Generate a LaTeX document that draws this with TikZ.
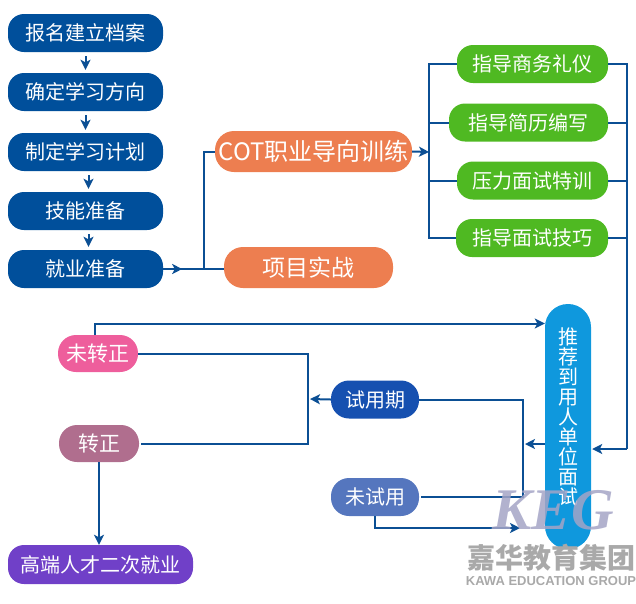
\documentclass[tikz,border=0pt]{standalone}
\usepackage{fontspec}
\setmainfont{Noto Sans CJK SC}
\newfontfamily\latinbold{Liberation Sans}
\newfontfamily\keg{Liberation Serif}
\usetikzlibrary{arrows.meta,calc}
\definecolor{navy}{HTML}{004F9B}
\definecolor{linec}{HTML}{0B4F94}
\definecolor{orangec}{HTML}{ED7E50}
\definecolor{greenc}{HTML}{4FB922}
\definecolor{skyc}{HTML}{0F98DD}
\definecolor{trialc}{HTML}{1650B0}
\definecolor{notrialc}{HTML}{5576BE}
\definecolor{pinkc}{HTML}{EE5E9C}
\definecolor{mauvec}{HTML}{B06E8E}
\definecolor{purplec}{HTML}{7040C8}
\definecolor{wmc}{HTML}{A9A9A9}
\definecolor{kegc}{HTML}{A4A4C6}
\tikzset{
  pill/.style={rounded corners=16pt,text=white,inner sep=0pt,font=\fontsize{20}{20}\selectfont},
  stepbox/.style={pill,fill=navy,minimum width=155pt,minimum height=38pt},
  greenbox/.style={pill,fill=greenc,minimum height=38pt},
  orangebox/.style={pill,fill=orangec,minimum height=41pt,rounded corners=19pt},
  smallbox/.style={pill,minimum width=88pt,minimum height=38pt,rounded corners=18pt,font=\fontsize{20}{20}\selectfont},
  line/.style={draw=linec,line width=2pt},
  arr/.style={line,-{Stealth[length=10pt,width=10pt,inset=2.5pt]}},
}
\begin{document}
\begin{tikzpicture}[x=1pt,y=-1pt]
\useasboundingbox (0,0) rectangle (636,603);
% left column
\node[stepbox] (s1) at (85.5,33) {报名建立档案};
\node[stepbox] (s2) at (85.5,92) {确定学习方向};
\node[stepbox] (s3) at (85.5,152) {制定学习计划};
\node[stepbox] (s4) at (85.5,211) {技能准备};
\node[stepbox] (s5) at (85.5,269) {就业准备};
% orange
\node[orangebox,minimum width=197pt,font=\fontsize{24}{24}\selectfont] (cot) at (313.5,151.5) {COT职业导向训练};
\node[orangebox,minimum width=169pt,font=\fontsize{23}{23}\selectfont] (proj) at (308.5,267.5) {项目实战};
% green
\node[greenbox,minimum width=151pt] (g1) at (532.5,64) {指导商务礼仪};
\node[greenbox,minimum width=159pt] (g2) at (528.5,122.5) {指导简历编写};
\node[greenbox,minimum width=151pt] (g3) at (532.5,180.5) {压力面试特训};
\node[greenbox,minimum width=152pt] (g4) at (532,238) {指导面试技巧};
% recommend
\node[pill,fill=skyc,minimum width=46pt,minimum height=245pt,rounded corners=22.9pt] (rec) at (568,426.5) {};
\node[text=white,inner sep=0pt,align=center,font=\fontsize{20}{20}\selectfont] (reclabel) at (568,417) {推\\荐\\到\\用\\人\\单\\位\\面\\试};
% trial
\node[smallbox,fill=trialc] (trial) at (375,399.5) {试用期};
\node[smallbox,fill=notrialc] (notrial) at (375,497) {未试用};
\node[smallbox,fill=pinkc,minimum width=80pt,minimum height=37pt,font=\fontsize{21}{21}\selectfont] (nopos) at (98,353.5) {未转正};
\node[smallbox,fill=mauvec,minimum width=80pt,minimum height=37pt,font=\fontsize{21}{21}\selectfont] (pos) at (99,443.5) {转正};
\node[pill,fill=purplec,minimum width=185pt,minimum height=39pt,font=\fontsize{20}{20}\selectfont] (high) at (100.5,564.5) {高端人才二次就业};
% helper points
\coordinate (j1) at (204,269);
\coordinate (j2) at (429,152);
\coordinate (j3) at (627,449);
\coordinate (j4) at (523,444);
\coordinate (j5) at (308,399);
% left column arrows
\draw[arr] ([yshift=-4pt]s1.south) -- ([yshift=3pt]s2.north);
\draw[arr] ([yshift=-4pt]s2.south) -- ([yshift=3pt]s3.north);
\draw[arr] ([xshift=3pt,yshift=-4pt]s3.south) -- ([xshift=3pt,yshift=3pt]s4.north);
\draw[arr] ([xshift=3pt,yshift=-4pt]s4.south) -- ([xshift=3pt,yshift=3pt]s5.north);
% to orange
\draw[line] (s5.east) -- (proj.west |- s5.east);
\draw[arr] (s5.east) -- ++(19,0);
\draw[line] (j1) |- (cot.west);
% cot to green
\draw[arr] (cot.east) -- (j2);
\draw[line] (g1.west) -| (g4.west -| j2) -- (g4.west);
\draw[line] (g2.west) -- (g2.west -| j2);
\draw[line] (g3.west) -- (g3.west -| j2);
% green to recommend
\draw[line] (g1.east) -| (j3);
\draw[line] (g2.east) -- (g2.east -| j3);
\draw[line] (g3.east) -- (g3.east -| j3);
\draw[line] (g4.east) -- (g4.east -| j3);
\draw[arr] (j3) -- ([xshift=1pt]rec.east |- j3);
% recommend to trial branches
\draw[arr] (rec.west |- j4) -- ([xshift=2pt]j4);
\draw[line] (trial.east) -| (j4 |- notrial.east) -- ([xshift=2pt]notrial.east);
\coordinate (endnt) at (520,528);
\draw[arr] (notrial.south) |- (endnt);
% trial to position
\draw[arr] (trial.west) -- ([xshift=2pt]j5);
\draw[line] (nopos.east) -| (pos.east -| j5) -- ([xshift=2pt]pos.east);
\draw[arr] ([xshift=-3pt]nopos.north) |- ([yshift=0pt]rec.west |- 0,323.5);
\draw[arr] (pos.south) -- (high.north -| pos.south);
% watermark
\node[inner sep=0pt,text=kegc,opacity=.85,font=\keg\bfseries\itshape\fontsize{59}{59}\selectfont] (wm1) at (553,510) {KEG};
\node[inner sep=0pt,text=wmc,font=\bfseries\fontsize{28}{28}\selectfont] (wm2) at (551.5,558) {嘉华教育集团};
\node[inner sep=0pt,text=wmc,font=\latinbold\bfseries\fontsize{13}{13}\selectfont] (wm3) at (551,581) {KAWA EDUCATION GROUP};
\end{tikzpicture}
\end{document}
